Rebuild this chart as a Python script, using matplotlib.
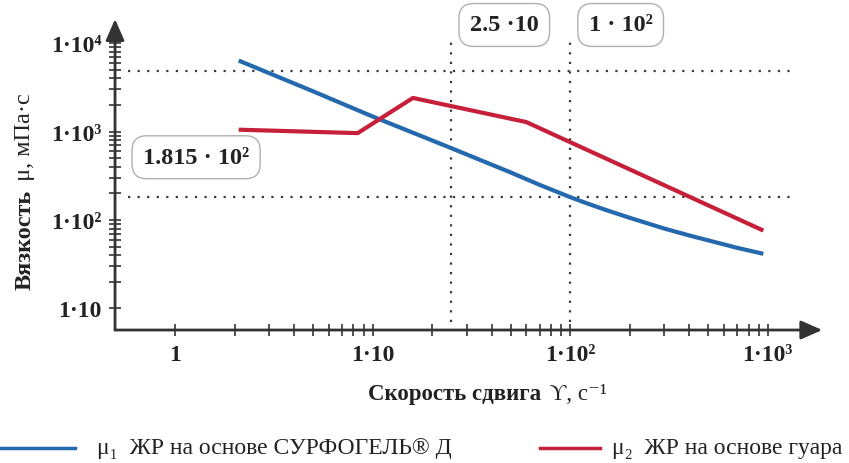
import numpy as np
import matplotlib
matplotlib.use("Agg")
from matplotlib import pyplot as plt
from matplotlib.lines import Line2D

# ---- data ----
shear_blue = [2.1, 5, 10, 25, 50, 70, 100, 120, 150, 200, 300, 400, 700, 950]
visc_blue = [6350, 2850, 1480, 650, 345, 250, 181.5, 156, 131, 106, 80, 67, 48.5, 41.5]

shear_red = [2.1, 8.4, 16, 60, 950]
visc_red = [1050, 960, 2400, 1280, 76]

ref_visc = [4800, 181.5]      # horizontal dotted lines
ref_shear = [25, 100]         # vertical dotted lines

xticks_major = [1, 10, 100, 1000]
xtick_labels = ["1", "1·10", "1·10²", "1·10³"]
yticks_major = [10, 100, 1000, 10000]
ytick_labels = ["1·10", "1·10²", "1·10³", "1·10⁴"]

box_labels = ["1.815 · 10²", "2.5 ·10", "1 · 10²"]

legend_labels = ["μ₁  ЖР на основе СУРФОГЕЛЬ® Д", "μ₂  ЖР на основе гуара"]

BLUE = "#2468ad"
RED = "#c61f3a"
AXC = "#333333"
FONT = ["Liberation Serif", "DejaVu Serif"]

plt.rcParams["font.family"] = FONT

fig = plt.figure(figsize=(8.49, 4.64), dpi=100)
ax = fig.add_axes([0.1355, 0.2866, 0.833, 0.670])
ax.set_xscale("log")
ax.set_yscale("log")
ax.set_xlim(0.497, 1888)
ax.set_ylim(5.71, 18660)

for s in ax.spines.values():
    s.set_visible(False)

# axes with arrows
ax.annotate("", xy=(1, 0), xytext=(0, 0), xycoords="axes fraction",
            arrowprops=dict(arrowstyle="-|>,head_length=0.5,head_width=0.22", lw=2, color=AXC,
                            mutation_scale=26, shrinkA=0, shrinkB=0))
ax.annotate("", xy=(0, 1), xytext=(0, 0), xycoords="axes fraction",
            arrowprops=dict(arrowstyle="-|>,head_length=0.5,head_width=0.22", lw=2, color=AXC,
                            mutation_scale=26, shrinkA=0, shrinkB=0))

# ticks
xminor = [m * d for d in [1, 10, 100] for m in range(2, 10)]
yminor = [m * d for d in [10, 100, 1000] for m in range(2, 10)]
ax.xaxis.set_major_locator(matplotlib.ticker.FixedLocator(xticks_major))
ax.xaxis.set_minor_locator(matplotlib.ticker.FixedLocator(xminor))
ax.yaxis.set_major_locator(matplotlib.ticker.FixedLocator(yticks_major))
ax.yaxis.set_minor_locator(matplotlib.ticker.FixedLocator(yminor))
ax.set_xticklabels(xtick_labels)
ax.set_yticklabels(ytick_labels)
ax.xaxis.set_minor_formatter(matplotlib.ticker.NullFormatter())
ax.yaxis.set_minor_formatter(matplotlib.ticker.NullFormatter())
ax.tick_params(which="both", direction="inout", length=8, width=1.2, color=AXC)
ax.tick_params(axis="x", which="major", pad=6, labelsize=17, labelcolor="#222222")
ax.tick_params(axis="y", which="major", pad=6, labelsize=17, labelcolor="#222222")
for lab in ax.get_xticklabels() + ax.get_yticklabels():
    lab.set_fontweight("bold")

# reference dotted lines
for v in ref_visc:
    ax.axhline(v, xmin=0.018, xmax=0.958, color="#3a3a3a", lw=1.6, ls=(0, (1, 3.3)))
for s in ref_shear:
    ax.axvline(s, ymin=0.026, ymax=0.936, color="#3a3a3a", lw=1.6, ls=(0, (1, 3.3)))

# curves
ax.plot(shear_blue, visc_blue, color=BLUE, lw=3, solid_capstyle="butt")
ax.plot(shear_red, visc_red, color=RED, lw=3, solid_capstyle="butt")

# value boxes
box = dict(boxstyle="round,pad=0.45,rounding_size=0.6", fc="white", ec="#b0b0b0", lw=1)
box_pos = [(0.231, 0.659), (0.594, 0.944), (0.731, 0.944)]
for t, (bx, by) in zip(box_labels, box_pos):
    fig.text(bx, by, t, ha="center", va="center", fontsize=17.5, fontweight="bold",
             color="#222222", bbox=box)

# axis labels: bold part + regular part
ty = fig.text(0.029, 0.375, "Вязкость", rotation=90, ha="center", va="bottom",
              fontsize=17.5, fontweight="bold", color="#222222")
ax.annotate(" μ, мПа·с", xy=(0.5, 1), xycoords=ty, xytext=(0, 2), textcoords="offset points",
            rotation=90, ha="center", va="bottom", fontsize=17.5, color="#222222", annotation_clip=False)

tx = fig.text(0.433, 0.149, "Скорость сдвига", ha="left", va="center",
              fontsize=16.5, fontweight="bold", color="#222222")
ax.annotate(" ϒ, с⁻¹", xy=(1, 0.5), xycoords=tx, xytext=(2, 0), textcoords="offset points",
            ha="left", va="center", fontsize=16.5, color="#222222", annotation_clip=False)

# legend (placed by hand in figure coordinates)
leg_y = 1 - 449 / 464
leg_keys = [((0.0, 75 / 849), 97 / 849), ((540 / 849, 600 / 849), 612 / 849)]
for (xs, tx0), col, lab in zip(leg_keys, [BLUE, RED], legend_labels):
    fig.add_artist(Line2D(list(xs), [leg_y, leg_y], color=col, lw=2.5, transform=fig.transFigure))
    fig.text(tx0, leg_y, lab, ha="left", va="center", fontsize=17, color="#222222")

fig.savefig("out.png", dpi=100)
